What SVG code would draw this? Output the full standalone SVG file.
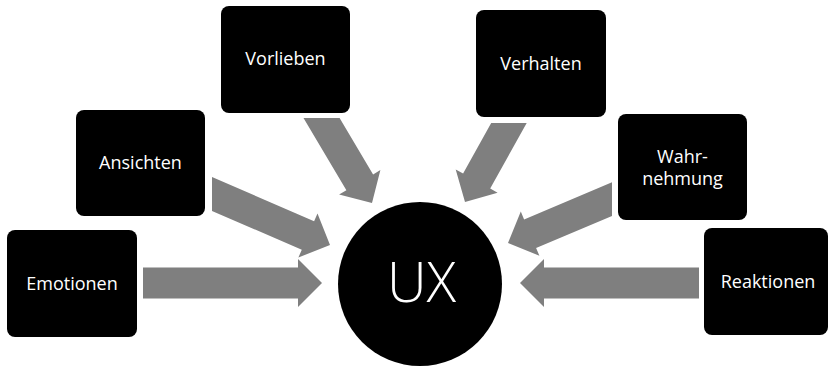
<svg xmlns="http://www.w3.org/2000/svg" width="828" height="366" viewBox="0 0 828 366">
  <style>
    .box { fill: #000000; }
    .label { fill: #ffffff; font-family: "Open Sans", "Liberation Sans", sans-serif; font-size: 18px; text-anchor: middle; }
    .big { fill: #ffffff; font-family: "Open Sans", "Liberation Sans", sans-serif; font-size: 55px; font-weight: 300; text-anchor: middle; }
    .arrow { fill: #7f7f7f; }
  </style>
  <rect width="828" height="366" fill="#ffffff"/>

  <!-- block arrows pointing at the central circle; tails cut flush with the box sides -->
  <g id="connectors">
    <polygon class="arrow" points="143,267.5 298,267.5 298,259 322,283 298,307 298,298.5 143,298.5"/>
    <polygon class="arrow" points="212,177 314.1,221.2 317.5,213.4 330,245 298.4,257.5 301.8,249.7 212,210.9"/>
    <polygon class="arrow" points="339.6,118 373.1,174.5 380.4,170.1 372,203 339.1,194.6 346.4,190.3 303.5,118"/>
    <polygon class="arrow" points="526.7,123 490.2,188.6 497.6,192.7 465,202 455.7,169.4 463.1,173.5 491.2,123"/>
    <polygon class="arrow" points="612,182.3 524.1,219.4 520.8,211.6 508,243 539.4,255.8 536.1,247.9 612,215.9"/>
    <polygon class="arrow" points="699,267.5 544,267.5 544,259 520,283 544,307 544,298.5 699,298.5"/>
  </g>

  <g id="emotionen">
    <rect class="box" x="7" y="230" width="130" height="107" rx="8"/>
    <text class="label" x="72" y="290">Emotionen</text>
  </g>
  <g id="ansichten">
    <rect class="box" x="76" y="110" width="129" height="106" rx="8"/>
    <text class="label" x="140.5" y="169">Ansichten</text>
  </g>
  <g id="vorlieben">
    <rect class="box" x="221" y="6" width="129" height="107" rx="8"/>
    <text class="label" x="285.5" y="65">Vorlieben</text>
  </g>
  <g id="verhalten">
    <rect class="box" x="476" y="10" width="130" height="107" rx="8"/>
    <text class="label" x="541" y="70">Verhalten</text>
  </g>
  <g id="wahrnehmung">
    <rect class="box" x="618" y="114" width="129" height="106" rx="8"/>
    <text class="label" x="682.5" y="163">Wahr-</text>
    <text class="label" x="682.5" y="185">nehmung</text>
  </g>
  <g id="reaktionen">
    <rect class="box" x="704" y="228" width="124" height="107" rx="8"/>
    <text class="label" x="768" y="288">Reaktionen</text>
  </g>

  <g id="ux">
    <circle cx="420" cy="284" r="82" fill="#000000"/>
    <text class="big" x="421.5" y="302">UX</text>
  </g>
</svg>
